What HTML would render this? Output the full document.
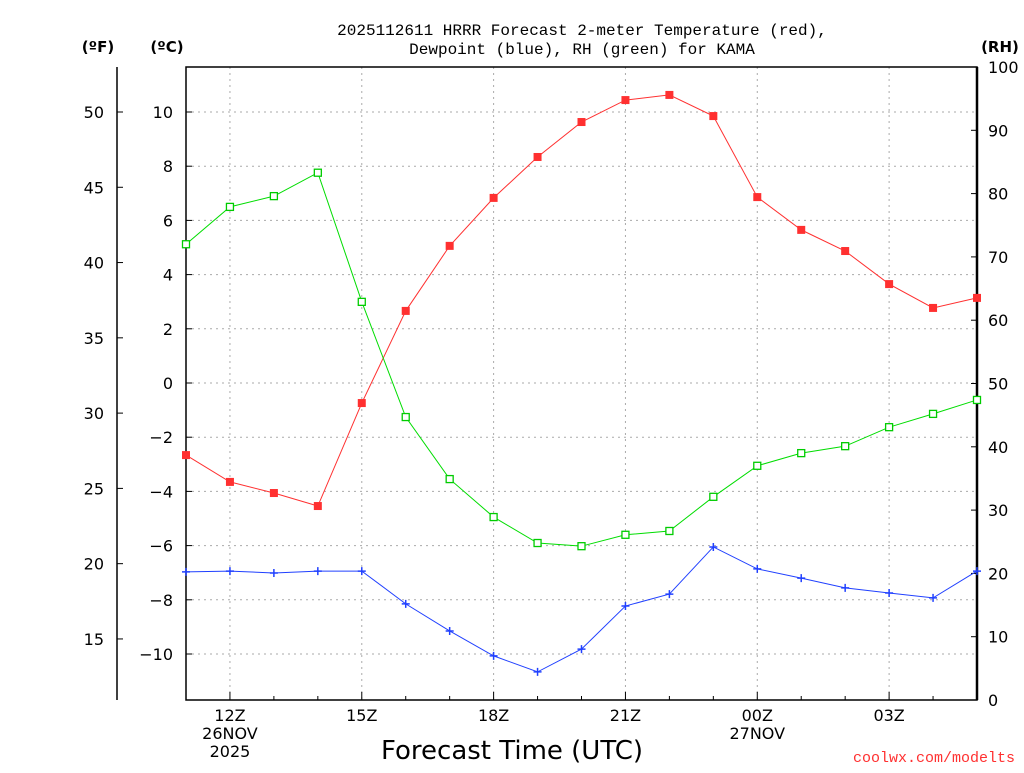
<!DOCTYPE html>
<html><head><meta charset="utf-8"><style>
body{margin:0;background:#fff;}
svg text{font-family:"DejaVu Sans","Liberation Sans",sans-serif;}
svg text.mono{font-family:"Liberation Mono","DejaVu Sans Mono",monospace;}
</style></head><body>
<svg id="chart" width="1024" height="768" xmlns="http://www.w3.org/2000/svg">
<rect width="1024" height="768" fill="#fff"/>
<g id="grid"></g>
<g id="axes"></g>
<g id="series"></g>
<text class="mono" x="582" y="35" text-anchor="middle" font-size="16">2025112611 HRRR Forecast 2-meter Temperature (red),</text>
<text class="mono" x="582" y="54" text-anchor="middle" font-size="16">Dewpoint (blue), RH (green) for KAMA</text>
<text x="98" y="52" text-anchor="middle" font-size="15" font-weight="bold">(ºF)</text>
<text x="167" y="52" text-anchor="middle" font-size="15" font-weight="bold">(ºC)</text>
<text x="1000" y="52" text-anchor="middle" font-size="15" font-weight="bold">(RH)</text>
<text x="512" y="759" text-anchor="middle" font-size="26">Forecast Time (UTC)</text>
<text class="mono" x="1015" y="762" text-anchor="end" font-size="15" fill="#ff3030">coolwx.com/modelts</text>
</svg>
<script>
const hours=['11','12','13','14','15','16','17','18','19','20','21','22','23','00','01','02','03','04','05'];
const tempC=[-2.66,-3.65,-4.06,-4.54,-0.74,2.66,5.06,6.83,8.34,9.63,10.44,10.63,9.85,6.86,5.65,4.87,3.65,2.77,3.14];
const dewC=[-6.97,-6.94,-7.01,-6.94,-6.94,-8.15,-9.15,-10.07,-10.66,-9.82,-8.23,-7.79,-6.05,-6.86,-7.2,-7.56,-7.75,-7.93,-6.94];
const rh=[72.0,77.9,79.6,83.3,62.9,44.7,34.9,28.9,24.8,24.3,26.1,26.7,32.1,37.0,39.0,40.1,43.1,45.2,47.4];
const cTicks=[10,8,6,4,2,0,-2,-4,-6,-8,-10];
const fTicks=[50,45,40,35,30,25,20,15];
const rhTicks=[0,10,20,30,40,50,60,70,80,90,100];
const xLabels=[[1,'12Z','26NOV','2025'],[4,'15Z'],[7,'18Z'],[10,'21Z'],[13,'00Z','27NOV'],[16,'03Z']];

const X0=186,X1=977,Y0=67,Y1=700;
const xS=i=>X0+i*(X1-X0)/(hours.length-1);
const yC=c=>383-c*27.1;
const yF=f=>yC((f-32)*5/9);
const yR=r=>Y1-r*(Y1-Y0)/100;
const NS='http://www.w3.org/2000/svg';
function mk(tag,attrs,parent,txt){const e=document.createElementNS(NS,tag);for(const k in attrs)e.setAttribute(k,attrs[k]);if(txt!==undefined)e.textContent=txt;parent.appendChild(e);return e;}
const grid=document.getElementById('grid'),axes=document.getElementById('axes'),ser=document.getElementById('series');
xLabels.forEach(l=>{const g=mk('line',{x1:xS(l[0]),x2:xS(l[0]),y1:Y0,y2:Y1,stroke:'#aaa','stroke-dasharray':'2,4'},grid);

});
cTicks.forEach(c=>{const g=mk('line',{x1:X0,x2:X1,y1:yC(c),y2:yC(c),stroke:'#aaa','stroke-dasharray':'2,4'},grid);

});
mk('rect',{x:X0,y:Y0,width:X1-X0,height:Y1-Y0,fill:'none',stroke:'#000','stroke-width':1.5},axes);
mk('line',{x1:X1,x2:X1,y1:Y0,y2:Y1,stroke:'#000','stroke-width':2.5},axes);
mk('line',{x1:117,x2:117,y1:Y0,y2:Y1,stroke:'#000','stroke-width':1.5},axes);
cTicks.forEach(c=>{mk('line',{x1:X0,x2:X0+6,y1:yC(c),y2:yC(c),stroke:'#000'},axes);
const t=mk('text',{x:173,y:yC(c)+6,'text-anchor':'end','font-size':16},axes,c<0?'−'+Math.abs(c):String(c));

});
fTicks.forEach(f=>{mk('line',{x1:117,x2:123,y1:yF(f),y2:yF(f),stroke:'#000'},axes);
const t=mk('text',{x:104,y:yF(f)+6,'text-anchor':'end','font-size':16},axes,String(f));

});
rhTicks.forEach(r=>{mk('line',{x1:X1-6,x2:X1,y1:yR(r),y2:yR(r),stroke:'#000'},axes);
const t=mk('text',{x:988,y:yR(r)+6,'font-size':16},axes,String(r));

});
for(let i=0;i<hours.length;i++){mk('line',{x1:xS(i),x2:xS(i),y1:Y1,y2:Y1-(i%3==1?8:4),stroke:'#000'},axes);}
xLabels.forEach(l=>{for(let j=1;j<l.length;j++){const t=mk('text',{x:xS(l[0]),y:Y1+21+(j-1)*18,'text-anchor':'middle','font-size':16},axes,l[j]);

}});
function line(vals,yf,color,name){const pts=vals.map((v,i)=>xS(i)+','+yf(v)).join(' ');
const p=mk('polyline',{points:pts,fill:'none',stroke:color,'stroke-width':1},ser);

}
line(tempC,yC,'#ff3030','temperature');
line(dewC,yC,'#2040ff','dewpoint');
line(rh,yR,'#00dd00','rh');
tempC.forEach((v,i)=>{const m=mk('rect',{x:xS(i)-4,y:yC(v)-4,width:8,height:8,fill:'#ff3030'},ser);

});
dewC.forEach((v,i)=>{const m=mk('path',{d:`M${xS(i)-4},${yC(v)}h8M${xS(i)},${yC(v)-4}v8`,stroke:'#2040ff','stroke-width':1.5},ser);

});
rh.forEach((v,i)=>{const m=mk('rect',{x:xS(i)-3.5,y:yR(v)-3.5,width:7,height:7,fill:'#fff',stroke:'#00cc00','stroke-width':1.3},ser);

});
</script>
</body></html>
